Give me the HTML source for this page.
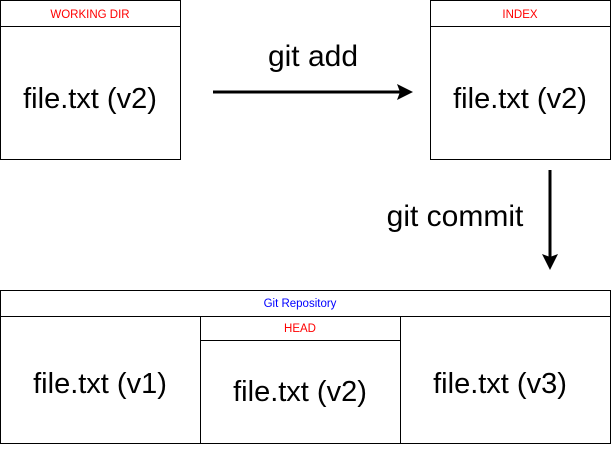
<!DOCTYPE html>
<html><head><style>
body{margin:0;background:#fff;width:611px;height:445px;overflow:hidden;font-family:"Liberation Sans",sans-serif}
</style></head><body>
<svg width="611" height="445" xmlns="http://www.w3.org/2000/svg" font-family="Liberation Sans, sans-serif">
<g fill="none" stroke="#000" stroke-width="1">
<rect x="0.5" y="0.5" width="180" height="159"/>
<line x1="0.5" y1="26.5" x2="180.5" y2="26.5"/>
<rect x="430.5" y="0.5" width="180" height="159"/>
<line x1="430.5" y1="26.5" x2="610.5" y2="26.5"/>
<rect x="0.5" y="290.5" width="610" height="153"/>
<line x1="0.5" y1="316.5" x2="610.5" y2="316.5"/>
<line x1="200.5" y1="316.5" x2="200.5" y2="443.5"/>
<line x1="400.5" y1="316.5" x2="400.5" y2="443.5"/>
<line x1="200.5" y1="340.5" x2="400.5" y2="340.5"/>
</g>
<line x1="213" y1="92" x2="400" y2="92" stroke="#000" stroke-width="3"/>
<polygon points="413,92 397,84 400,92 397,100" fill="#000"/>
<line x1="550" y1="170" x2="550" y2="257" stroke="#000" stroke-width="3"/>
<polygon points="550,270 542,254 550,257 558,254" fill="#000"/>
<g font-size="11.5" text-anchor="middle">
<text x="90" y="18" fill="#f00">WORKING DIR</text>
<text x="520" y="18" fill="#f00">INDEX</text>
<text x="300" y="307" fill="#00f">Git Repository</text>
<text x="300" y="332" fill="#f00">HEAD</text>
</g>
<g font-size="29" text-anchor="middle" fill="#000">
<text x="90" y="108">file.txt (v2)</text>
<text x="520" y="108">file.txt (v2)</text>
<text x="100" y="393">file.txt (v1)</text>
<text x="300" y="401">file.txt (v2)</text>
<text x="500" y="393">file.txt (v3)</text>
</g>
<g font-size="30" text-anchor="middle" fill="#000">
<text x="313" y="66">git add</text>
<text x="455" y="226">git commit</text>
</g>
</svg>
</body></html>
